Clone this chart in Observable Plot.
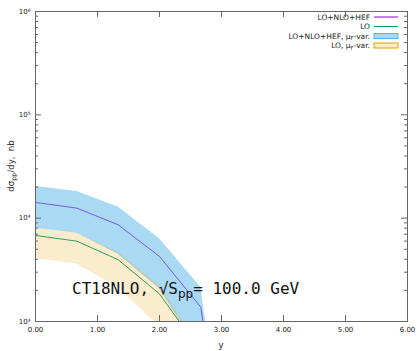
<!DOCTYPE html>
<html><head><meta charset="utf-8">
<script src="https://cdn.jsdelivr.net/npm/d3@7"></script>
<script src="https://cdn.jsdelivr.net/npm/@observablehq/plot@0.6"></script>
<style>body{margin:0;background:#fff} svg{display:block}</style>
</head><body><div id="chart"></div>
<script>
// rapidity grid
const rapidity   = [0, 0.667, 1.333, 2.0, 2.667, 3.333];
// LO+NLO+HEF central and mu_F band
const hefCentral = [14200, 12500, 8630, 4260, 1375, 2];
const hefLow     = [8000, 7160, 4480, 2080, 480, 1];
const hefHigh    = [20300, 18100, 12800, 6320, 2130, 3];
// LO central and mu_F band
const loCentral  = [6800, 5990, 3960, 1850, 510, 1];
const loLow      = [4050, 3610, 2150, 887, 200, 0.5];
const loHigh     = [8000, 7160, 4690, 2230, 550, 1];
// axis ticks
const xTicks = [0, 1, 2, 3, 4, 5, 6];
const yTicks = [1e3, 1e4, 1e5, 1e6];
const yMinor = [3, 4, 5].flatMap(k => [2,3,4,5,6,7,8,9].map(m => m * 10 ** k));
const sup = {3: "³", 4: "⁴", 5: "⁵", 6: "⁶"};

const rows = rapidity.map((x, i) => ({
  x, hef: hefCentral[i], hefLo: hefLow[i], hefHi: hefHigh[i],
  lo: loCentral[i], loLo: loLow[i], loHi: loHigh[i]
}));

const W = 418, H = 351, mL = 35, mR = 11, mT = 11, mB = 30;
const fw = W - mL - mR, fh = H - mT - mB;
const axisColor = "#666";
const font = "DejaVu Sans, sans-serif";

const chart = Plot.plot({
  width: W, height: H,
  marginLeft: mL, marginRight: mR, marginTop: mT, marginBottom: mB,
  style: {fontFamily: font, background: "#fff"},
  x: {domain: [0, 6]},
  y: {type: "log", domain: [1e3, 1e6]},
  marks: [
    Plot.lineY(rows, {x: "x", y: "hef", stroke: "#9400d3", strokeWidth: 1, clip: true}),
    Plot.lineY(rows, {x: "x", y: "lo", stroke: "#009e73", strokeWidth: 1, clip: true}),
    Plot.areaY(rows, {x: "x", y1: "hefLo", y2: "hefHi", fill: "#56b4e9", fillOpacity: 0.5, clip: true}),
    Plot.areaY(rows, {x: "x", y1: "loLo", y2: "loHi", fill: "#e69f00", fillOpacity: 0.2, clip: true}),
    // ticks (inward)
    Plot.ruleX(xTicks, {x: d => d, insetTop: fh - 6, stroke: axisColor}),
    Plot.ruleX(xTicks, {x: d => d, insetBottom: fh - 6, stroke: axisColor}),
    Plot.ruleY(yTicks, {y: d => d, insetRight: fw - 6, stroke: axisColor}),
    Plot.ruleY(yTicks, {y: d => d, insetLeft: fw - 6, stroke: axisColor}),
    Plot.ruleY(yMinor, {y: d => d, insetRight: fw - 3, stroke: axisColor}),
    Plot.ruleY(yMinor, {y: d => d, insetLeft: fw - 3, stroke: axisColor}),
    Plot.axisX(xTicks, {tickSize: 0, tickPadding: 6, fontSize: 7, fill: "#222",
      tickFormat: d => d.toFixed(2), label: null}),
    Plot.axisY(yTicks, {tickSize: 0, tickPadding: 5, fontSize: 7, fill: "#222",
      tickFormat: d => "10" + sup[Math.round(Math.log10(d))], label: null}),
    Plot.frame({stroke: axisColor})
  ]
});
document.getElementById("chart").append(chart);

const svg = d3.select(chart);
// axis titles
const yl = svg.append("text").attr("transform", "translate(14,166) rotate(-90)")
  .attr("text-anchor", "middle").attr("font-family", font).attr("font-size", 8.5).attr("fill", "#222");
yl.append("tspan").text("dσ");
yl.append("tspan").attr("font-size", 6.5).attr("dy", 2).text("pp");
yl.append("tspan").attr("dy", -2).text("/dy,  nb");
svg.append("text").attr("x", mL + fw / 2).attr("y", 348).attr("text-anchor", "middle")
  .attr("font-family", font).attr("font-size", 8.5).attr("fill", "#222").text("y");

// annotation
const ann = svg.append("text").attr("x", 72).attr("y", 294).attr("text-anchor", "start")
  .attr("font-family", "DejaVu Sans Mono, monospace").attr("font-size", 16).attr("fill", "#111");
ann.append("tspan").text("CT18NLO, √S");
ann.append("tspan").attr("font-family", font).attr("font-size", 12).attr("dy", 4).text("pp");
ann.append("tspan").attr("dy", -4).text("= 100.0 GeV");

// legend
const legend = [
  {label: ["LO+NLO+HEF"], type: "line", color: "#9400d3"},
  {label: ["LO"], type: "line", color: "#009e73"},
  {label: ["LO+NLO+HEF, μ", "F", "-var."], type: "box", color: "#56b4e9", op: 0.5},
  {label: ["LO, μ", "F", "-var."], type: "box", color: "#e69f00", op: 0.2}
];
legend.forEach((d, i) => {
  const cy = 17 + i * 9.5;
  const t = svg.append("text").attr("x", 370).attr("y", cy + 2.7).attr("text-anchor", "end")
    .attr("font-family", font).attr("font-size", 7.5).attr("fill", "#222");
  t.append("tspan").text(d.label[0]);
  if (d.label.length > 1) {
    t.append("tspan").attr("font-size", 5.5).attr("dy", 1.5).text(d.label[1]);
    t.append("tspan").attr("dy", -1.5).text(d.label[2]);
  }
  if (d.type === "line") {
    svg.append("line").attr("x1", 374).attr("x2", 398).attr("y1", cy).attr("y2", cy)
      .attr("stroke", d.color).attr("stroke-width", 1);
  } else {
    svg.append("rect").attr("x", 374).attr("y", cy - 2.5).attr("width", 24).attr("height", 5)
      .attr("fill", d.color).attr("fill-opacity", d.op).attr("stroke", d.color).attr("stroke-width", 1);
  }
});
</script>
</body></html>
